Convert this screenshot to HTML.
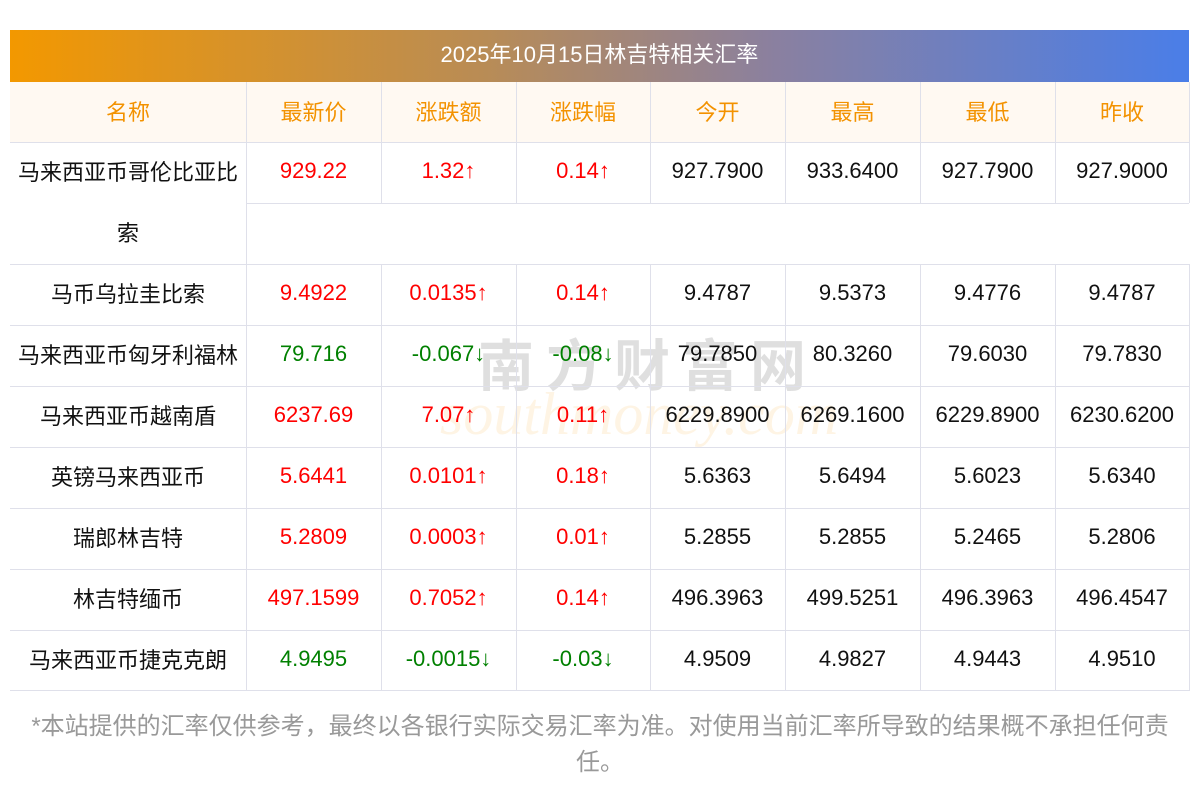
<!DOCTYPE html>
<html><head><meta charset="utf-8"><style>
body{margin:0;width:1200px;height:793px;background:#fff;position:relative;overflow:hidden;font-family:"Liberation Sans","Noto Sans CJK SC",sans-serif;}
.t{position:absolute;left:10px;top:30px;width:1179px;height:52px;background:linear-gradient(90deg,#f39800,#b98c55 40%,#8a80a0 65%,#4a7ee8);color:#fff;font-size:22px;line-height:50px;text-align:center;}
.c{position:absolute;display:flex;align-items:center;justify-content:center;font-size:22px;color:#111;box-sizing:border-box;padding-bottom:3px;}
.h{color:#f39200;background:#fff9f2;}
.r{color:#f00}.g{color:#008000}
.hl{position:absolute;height:1px;background:#dfe0ea}
.vl{position:absolute;width:1px;background:#dfe0ea}
.wm{position:absolute;left:478px;top:322px;font-size:56px;color:rgba(150,150,150,0.3);letter-spacing:12px;font-weight:bold}
.wm2{position:absolute;left:440px;top:380px;font-size:60px;color:rgba(250,200,120,0.2);font-style:italic;font-family:"Liberation Serif",serif}
.f{position:absolute;left:20px;top:709px;width:1160px;text-align:center;font-size:24px;line-height:36px;color:#999}
</style></head><body>
<div class="t">2025年10月15日林吉特相关汇率</div>
<div class="wm">南方财富网</div>
<div class="wm2">southmoney.com</div>
<div id="g"></div>
<div class="f">*本站提供的汇率仅供参考，最终以各银行实际交易汇率为准。对使用当前汇率所导致的结果概不承担任何责任。</div>
<script>
var xs=[10,246,381,516,650,785,920,1055,1189];
var out='';
function cell(x0,x1,y0,y1,t,cls){out+='<div class="c '+(cls||'')+'" style="left:'+x0+'px;top:'+y0+'px;width:'+(x1-x0)+'px;height:'+(y1-y0)+'px">'+t+'</div>';}
var hd=['名称','最新价','涨跌额','涨跌幅','今开','最高','最低','昨收'];
cell(10,1189,82,142,'','h');
for(var i=0;i<8;i++)cell(xs[i],xs[i+1],82,142,hd[i],'h');
var rows=[
['马来西亚币哥伦比亚比索','929.22','1.32↑','0.14↑','927.7900','933.6400','927.7900','927.9000','r'],
['马币乌拉圭比索','9.4922','0.0135↑','0.14↑','9.4787','9.5373','9.4776','9.4787','r'],
['马来西亚币匈牙利福林','79.716','-0.067↓','-0.08↓','79.7850','80.3260','79.6030','79.7830','g'],
['马来西亚币越南盾','6237.69','7.07↑','0.11↑','6229.8900','6269.1600','6229.8900','6230.6200','r'],
['英镑马来西亚币','5.6441','0.0101↑','0.18↑','5.6363','5.6494','5.6023','5.6340','r'],
['瑞郎林吉特','5.2809','0.0003↑','0.01↑','5.2855','5.2855','5.2465','5.2806','r'],
['林吉特缅币','497.1599','0.7052↑','0.14↑','496.3963','499.5251','496.3963','496.4547','r'],
['马来西亚币捷克克朗','4.9495','-0.0015↓','-0.03↓','4.9509','4.9827','4.9443','4.9510','g']];
cell(10,246,142,203,'马来西亚币哥伦比亚比');cell(10,246,203,264,'索');
for(var i=1;i<8;i++)cell(xs[i],xs[i+1],142,203,rows[0][i],i<4?rows[0][8]:'');
out+='<div class="hl" style="left:10px;width:1179px;top:142px"></div>';
out+='<div class="hl" style="left:246px;width:943px;top:203px"></div>';
out+='<div class="vl" style="left:246px;top:82px;height:182px"></div>';
for(var i=2;i<9;i++)out+='<div class="vl" style="left:'+xs[i]+'px;top:82px;height:121px"></div>';
for(var r=1;r<8;r++){var y=264+(r-1)*61;
out+='<div class="hl" style="left:10px;width:1179px;top:'+y+'px"></div>';
for(var i=0;i<8;i++)cell(xs[i],xs[i+1],y,y+61,rows[r][i],(i>0&&i<4)?rows[r][8]:'');
for(var i=1;i<9;i++)out+='<div class="vl" style="left:'+xs[i]+'px;top:'+y+'px;height:61px"></div>';}
out+='<div class="hl" style="left:10px;width:1179px;top:690px"></div>';
document.getElementById('g').innerHTML=out;
</script>
</body></html>
